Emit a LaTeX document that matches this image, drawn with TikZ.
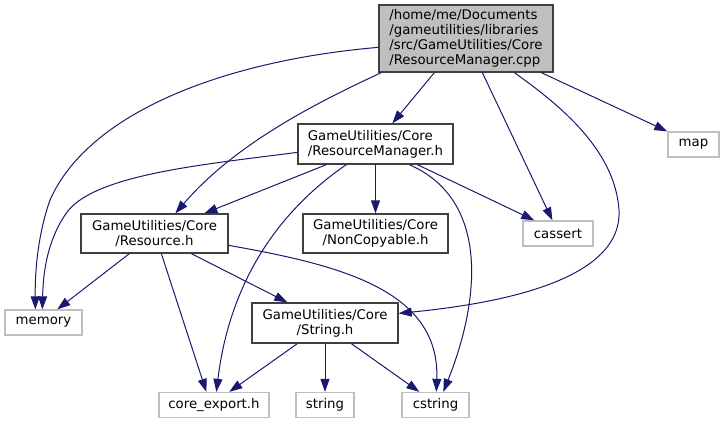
\documentclass[tikz,border=0pt]{standalone}
\usepackage{fontspec}
\setmainfont{DejaVu Sans}
\usetikzlibrary{arrows.meta}
\definecolor{edgeblue}{HTML}{191970}
\definecolor{darkborder}{HTML}{404040}
\definecolor{lightborder}{HTML}{BFBFBF}
\definecolor{rootfill}{HTML}{BFBFBF}
\tikzset{
  docbox/.style={draw=darkborder, line width=1.3pt, fill=white, inner sep=0pt, font=\fontsize{13.3}{15}\selectfont},
  extbox/.style={draw=lightborder, line width=1.3pt, fill=white, inner sep=0pt, minimum height=25pt, font=\fontsize{13.3}{15}\selectfont},
  dep/.style={draw=edgeblue, line width=1pt, -{Triangle[length=13pt,width=9pt]}, edgeblue},
}
\begin{document}
\begin{tikzpicture}[x=1pt,y=-1pt]
\useasboundingbox[fill=white] (0,0) rectangle (724,424);
% nodes
\node[docbox, fill=rootfill, minimum width=174pt, minimum height=67pt, align=left] (root) at (466,38.5)
  {/home/me/Documents\\/gameutilities/libraries\\/src/GameUtilities/Core\\/ResourceManager.cpp};
\node[docbox, minimum width=155pt, minimum height=40pt, align=left] (rmh) at (375.5,144)
  {GameUtilities/Core\\/ResourceManager.h};
\node[docbox, minimum width=147pt, minimum height=39pt, align=center] (res) at (154.5,233.5)
  {GameUtilities/Core\\/Resource.h};
\node[docbox, minimum width=145pt, minimum height=39pt, align=center] (nc) at (375.5,233.5)
  {GameUtilities/Core\\/NonCopyable.h};
\node[docbox, minimum width=146pt, minimum height=40pt, align=center] (str) at (325,323)
  {GameUtilities/Core\\/String.h};
\node[extbox, minimum width=77pt] (memory) at (43.5,322.5) {memory};
\node[extbox, minimum width=70pt] (cassert) at (558,233.5) {cassert};
\node[extbox, minimum width=51pt] (map) at (693.5,144.5) {map};
\node[extbox, minimum width=110pt] (core) at (214,405) {core\_export.h};
\node[extbox, minimum width=58pt] (string) at (325,405) {string};
\node[extbox, minimum width=67pt] (cstr) at (435.5,405) {cstring};
% edges from root
\draw[dep] ([shift={(0,43)}]root.north west) .. controls (230,60) and (90,110) .. (50,200)
  .. controls (36,240) and (35,280) .. ([shift={(31,0)}]memory.north west);
\draw[dep] ([shift={(3,0)}]root.south west) .. controls (300,110) and (230,150) .. ([shift={(95,0)}]res.north west);
\draw[dep] ([shift={(56,0)}]root.south west) -- ([shift={(95,0)}]rmh.north west);
\draw[dep] ([shift={(104,0)}]root.south west) -- ([shift={(30,0)}]cassert.north west);
\draw[dep] ([shift={(136,0)}]root.south west) .. controls (560,105) and (615,150) .. (619,210)
  .. controls (622,262) and (555,298) .. ([shift={(0,11)}]str.north east);
\draw[dep] ([shift={(163,0)}]root.south west) -- (map.north west);
% edges from ResourceManager.h
\draw[dep] ([shift={(0,29)}]rmh.north west) .. controls (200,165) and (90,175) .. (65,215)
  .. controls (45,245) and (43,280) .. ([shift={(38,0)}]memory.north west);
\draw[dep] ([shift={(29,0)}]rmh.south west) -- ([shift={(124,0)}]res.north west);
\draw[dep] ([shift={(49,0)}]rmh.south west) .. controls (280,210) and (230,280) .. ([shift={(58,0)}]core.north west);
\draw[dep] (rmh.south) -- (nc.north);
\draw[dep] ([shift={(120,0)}]rmh.south west) -- ([shift={(12,0)}]cassert.north west);
\draw[dep] ([shift={(112,0)}]rmh.south west) .. controls (490,200) and (480,300) .. ([shift={(42,0)}]cstr.north west);
% edges from Resource.h
\draw[dep] ([shift={(49,0)}]res.south west) -- ([shift={(53,0)}]memory.north west);
\draw[dep] ([shift={(111,0)}]res.south west) -- ([shift={(36,0)}]str.north west);
\draw[dep] ([shift={(81,0)}]res.south west) -- ([shift={(48,0)}]core.north west);
\draw[dep] ([shift={(0,32)}]res.north east) .. controls (340,265) and (440,290) .. ([shift={(35,0)}]cstr.north west);
% edges from String.h
\draw[dep] ([shift={(46,0)}]str.south west) -- ([shift={(71,0)}]core.north west);
\draw[dep] (str.south) -- (string.north);
\draw[dep] ([shift={(100,0)}]str.south west) -- ([shift={(18,0)}]cstr.north west);
\end{tikzpicture}
\end{document}
